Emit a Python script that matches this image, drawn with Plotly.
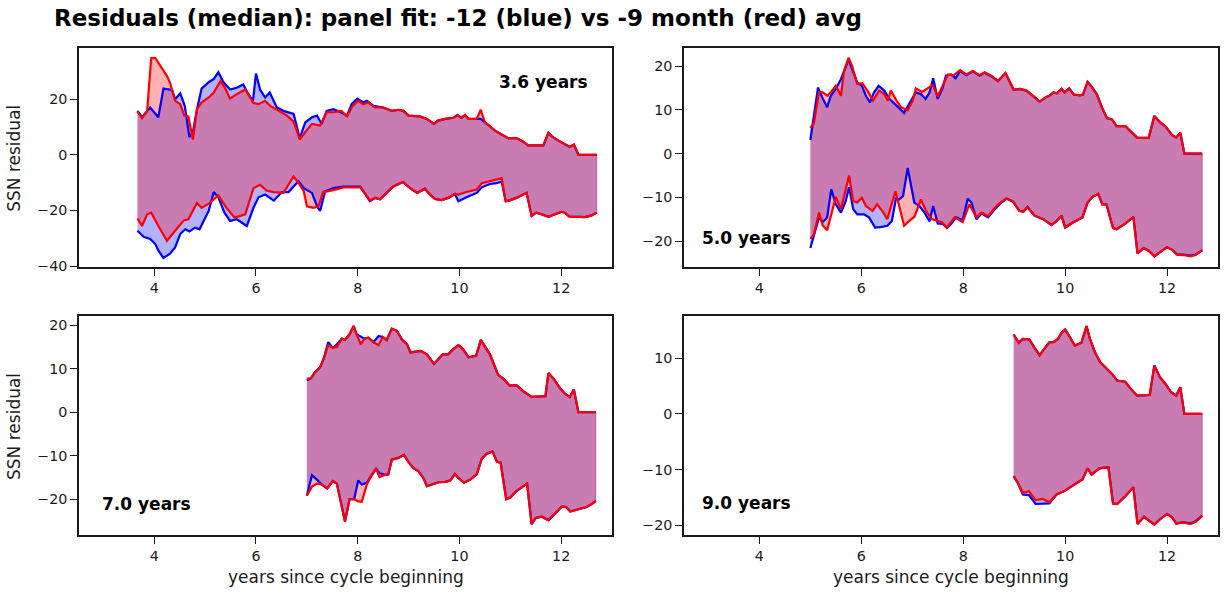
import plotly.graph_objects as go

FONT = "DejaVu Sans"
W, H = 1225, 600

BLUE = "#0000ff"
RED = "#ff0000"
BLUE_FILL = "rgba(0,0,255,0.3)"
RED_FILL = "rgba(255,0,0,0.3)"

# ---------------- panel 1: fit from 3.6 years ----------------
P1_BLUE_HI_X = [3.67, 3.76, 3.92, 4.08, 4.18, 4.35, 4.41, 4.51, 4.60, 4.69, 4.76, 4.84, 4.93, 5.07,
                5.17, 5.26, 5.36, 5.49, 5.62, 5.75, 5.85, 5.94, 6.00, 6.08, 6.18, 6.27, 6.41, 6.54,
                6.74, 6.86, 6.97, 7.10, 7.20, 7.29, 7.39, 7.52, 7.65, 7.79, 7.88, 7.99, 8.11, 8.18,
                8.31]
P1_BLUE_HI_Y = [15.8, 13.5, 17.0, 13.5, 23.8, 23.3, 20.0, 22.1, 17.6, 6.4, 8.2, 16.4, 23.8, 26.1,
                27.3, 29.7, 26.1, 23.5, 24.1, 25.3, 21.8, 19.4, 29.2, 23.5, 20.6, 22.4, 17.0, 15.8,
                14.7, 6.0, 11.7, 13.5, 14.1, 11.1, 15.8, 16.4, 15.5, 14.1, 18.2, 20.2, 18.8, 19.4,
                17.6]
P1_RED_HI_X = [3.67, 3.76, 3.86, 3.94, 4.02, 4.15, 4.25, 4.31, 4.41, 4.51, 4.59, 4.67, 4.76, 4.84,
               4.93, 5.07, 5.17, 5.30, 5.39, 5.49, 5.62, 5.79, 5.95, 6.05, 6.18, 6.28, 6.44, 6.61,
               6.74, 6.86, 6.97, 7.10, 7.26, 7.39, 7.52, 7.68, 7.79, 7.90, 8.01, 8.11, 8.21, 8.34]
P1_RED_HI_Y = [15.5, 13.2, 15.8, 34.8, 34.8, 31.2, 28.3, 25.9, 19.4, 18.2, 14.1, 13.8, 5.5, 16.4,
               18.8, 20.6, 22.4, 26.5, 24.1, 20.2, 21.8, 23.5, 18.6, 18.2, 19.4, 17.6, 15.8, 14.1,
               11.9, 5.5, 8.2, 11.1, 10.5, 15.3, 15.3, 15.8, 13.8, 17.6, 19.4, 18.2, 18.8, 17.0]
P1_HI_TAIL_X = [8.50, 8.67, 8.80, 8.90, 9.00, 9.22, 9.36, 9.50, 9.58, 9.72, 9.88, 9.96, 10.04,
                10.11, 10.18, 10.34, 10.42, 10.50, 10.60, 10.70, 10.83, 10.96, 11.12, 11.25, 11.35,
                11.65, 11.75, 11.83, 11.94, 12.07, 12.17, 12.25, 12.34, 12.70]
P1_BLUE_HI_TAIL_Y = [17.0, 15.8, 16.2, 15.8, 14.1, 13.8, 12.9, 11.1, 12.3, 12.9, 13.3, 14.3, 13.3,
                     14.3, 12.9, 12.9, 12.9, 11.7, 10.3, 8.7, 7.3, 6.0, 6.0, 4.8, 3.4,
                     3.4, 7.9, 6.4, 5.2, 4.0, 2.8, 3.7, 0.0, 0.0]
P1_RED_HI_TAIL_Y = [17.0, 15.8, 16.2, 15.8, 14.1, 13.8, 12.9, 11.1, 12.3, 12.9, 13.3, 14.3, 13.3,
                    14.3, 12.9, 12.9, 16.2, 11.7, 10.3, 8.7, 7.3, 6.0, 6.0, 4.8, 3.4,
                    3.4, 7.9, 6.4, 5.2, 4.0, 2.8, 3.7, 0.0, 0.0]

P1_BLUE_LO_X = [3.67, 3.79, 3.92, 4.02, 4.08, 4.18, 4.31, 4.41, 4.51, 4.61, 4.69, 4.80, 4.89, 4.98,
                5.07, 5.17, 5.26, 5.38, 5.49, 5.62, 5.82, 5.95, 6.05, 6.18, 6.35, 6.51, 6.64, 6.77,
                6.84, 6.94, 7.10, 7.20, 7.26, 7.36, 7.52, 7.72, 7.92, 8.05, 8.24, 8.34, 8.44, 8.54,
                8.70, 8.89, 9.03, 9.17, 9.32, 9.42, 9.52, 9.65, 9.78, 9.91, 9.98, 10.14, 10.34,
                10.44, 10.60, 10.73, 10.83]
P1_BLUE_LO_Y = [-27.3, -29.5, -30.3, -32.1, -34.4, -37.1, -35.6, -33.3, -28.5, -26.8, -27.6, -26.2,
                -26.8, -23.2, -20.2, -13.4, -15.3, -20.8, -23.8, -23.2, -25.6, -19.1, -15.3, -14.3,
                -16.5, -13.4, -13.4, -10.8, -9.6, -12.0, -13.7, -18.5, -20.2, -13.1, -12.0, -11.4,
                -11.4, -11.4, -16.7, -15.5, -16.0, -14.3, -11.4, -9.8, -12.0, -13.7, -12.2, -14.3,
                -15.9, -16.3, -15.5, -14.1, -16.7, -15.3, -13.7, -11.7, -10.5, -10.2, -9.7]
P1_RED_LO_X = [3.67, 3.76, 3.86, 3.94, 4.08, 4.25, 4.41, 4.58, 4.67, 4.84, 4.93, 5.07, 5.26, 5.42,
               5.58, 5.79, 5.95, 6.08, 6.21, 6.35, 6.54, 6.74, 6.84, 6.94, 7.00, 7.13, 7.23, 7.32,
               7.52, 7.72, 7.92, 8.05, 8.24, 8.34, 8.44, 8.54, 8.70, 8.89, 9.03, 9.17, 9.32, 9.42,
               9.52, 9.65, 9.78, 9.91, 9.98, 10.14, 10.34, 10.44, 10.60, 10.73, 10.83]
P1_RED_LO_Y = [-22.9, -25.6, -21.4, -20.8, -25.6, -30.9, -27.3, -23.6, -23.2, -17.3, -19.1, -17.6,
               -14.6, -19.1, -22.6, -21.4, -12.0, -10.8, -12.9, -13.4, -13.7, -7.8, -10.2, -13.1,
               -18.5, -19.1, -18.5, -13.4, -12.7, -11.7, -11.7, -11.7, -16.4, -15.5, -16.0, -14.3,
               -11.4, -9.8, -12.0, -13.7, -12.2, -14.3, -15.9, -16.3, -15.5, -14.1, -14.3, -13.4,
               -12.5, -10.2, -9.4, -9.0, -8.4]
P1_LO_TAIL_X = [10.91, 10.99, 11.12, 11.32, 11.42, 11.51, 11.61, 11.75, 11.88, 12.01, 12.07, 12.17,
                12.34, 12.47, 12.60, 12.70]
P1_LO_TAIL_Y = [-16.7, -16.4, -15.5, -13.7, -22.0, -20.8, -21.4, -22.3, -21.4, -20.5, -20.8, -22.3,
                -22.3, -22.4, -21.8, -20.8]

# ---------------- panel 2: fit from 5.0 years ----------------
P2_BLUE_HI_X = [5.00, 5.07, 5.15, 5.23, 5.33, 5.40, 5.50, 5.60, 5.67, 5.75, 5.82, 5.92, 6.01, 6.09,
                6.17, 6.25, 6.34, 6.45, 6.55, 6.65, 6.74, 6.84, 6.94, 7.07, 7.17, 7.26, 7.34, 7.41,
                7.50, 7.59, 7.66, 7.76, 7.85, 7.94, 8.06, 8.19, 8.32, 8.42, 8.55, 8.68, 8.83, 8.99]
P2_BLUE_HI_Y = [3.1, 8.7, 15.1, 12.9, 10.6, 13.2, 14.8, 17.0, 19.3, 21.5, 19.3, 16.3, 15.5, 13.2,
                11.7, 14.0, 15.5, 14.4, 12.5, 11.4, 10.2, 9.3, 11.4, 14.0, 13.6, 12.5, 14.0, 17.2,
                12.5, 14.8, 17.8, 18.1, 17.2, 18.9, 17.9, 18.8, 17.8, 18.5, 17.7, 16.6, 18.4, 14.6]
P2_RED_HI_X = [5.00, 5.07, 5.17, 5.24, 5.34, 5.50, 5.60, 5.66, 5.75, 5.82, 5.92, 6.02, 6.12, 6.23,
               6.35, 6.45, 6.52, 6.58, 6.69, 6.78, 6.91, 7.01, 7.07, 7.19, 7.30, 7.40, 7.50, 7.60,
               7.70, 7.81, 7.94, 8.06, 8.19, 8.32, 8.42, 8.55, 8.68, 8.83, 8.99]
P2_RED_HI_Y = [5.9, 6.9, 14.1, 14.0, 13.2, 15.5, 13.2, 18.9, 21.9, 20.0, 15.9, 16.1, 14.4, 12.1,
               14.4, 13.6, 12.1, 14.4, 12.1, 10.6, 9.9, 12.1, 14.9, 14.1, 14.9, 15.7, 13.1, 15.5,
               18.1, 17.9, 19.1, 18.1, 18.9, 17.9, 18.6, 17.8, 16.6, 18.4, 14.6]
P2_HI_TAIL_X = [9.11, 9.24, 9.37, 9.50, 9.62, 9.69, 9.77, 9.84, 9.93, 9.99, 10.08, 10.17, 10.29,
                10.35, 10.44, 10.52, 10.62, 10.72, 10.82, 10.92, 11.01, 11.18, 11.31, 11.42, 11.64,
                11.75, 11.86, 11.97, 12.10, 12.18, 12.26, 12.34, 12.69]
P2_HI_TAIL_Y = [14.8, 14.4, 13.2, 11.9, 12.9, 13.2, 14.0, 13.8, 14.8, 14.0, 14.9, 13.5, 13.3,
                13.5, 16.4, 15.3, 13.6, 10.6, 8.1, 7.8, 6.3, 6.3, 4.8, 3.6, 3.6,
                8.6, 7.2, 6.2, 4.2, 3.7, 4.8, 0.0, 0.0]

P2_BLUE_LO_X = [5.00, 5.07, 5.17, 5.24, 5.33, 5.41, 5.50, 5.60, 5.69, 5.76, 5.84, 5.92, 6.05, 6.15,
                6.27, 6.38, 6.51, 6.60, 6.68, 6.74, 6.82, 6.91, 6.98, 7.04, 7.14, 7.24, 7.34, 7.41,
                7.50, 7.60, 7.68, 7.76, 7.86, 7.99, 8.09, 8.16, 8.26, 8.36, 8.49, 8.62, 8.75, 8.85,
                8.98]
P2_BLUE_LO_Y = [-21.6, -18.8, -14.6, -15.7, -14.6, -8.2, -11.6, -13.5, -11.0, -7.7, -12.7, -13.9,
                -13.9, -14.6, -16.9, -16.8, -16.5, -15.4, -10.3, -10.5, -9.7, -3.3, -7.4, -11.2,
                -12.0, -13.5, -15.5, -12.0, -16.0, -16.1, -17.0, -16.1, -14.6, -15.2, -10.3, -11.2,
                -15.0, -13.7, -14.6, -12.7, -11.2, -10.3, -11.0]
P2_RED_LO_X = [5.00, 5.07, 5.17, 5.24, 5.33, 5.50, 5.60, 5.76, 5.84, 5.92, 6.01, 6.09, 6.22, 6.31,
               6.41, 6.51, 6.67, 6.74, 6.84, 6.98, 7.04, 7.17, 7.27, 7.38, 7.50, 7.58, 7.68, 7.83,
               7.99, 8.12, 8.26, 8.36, 8.49, 8.62, 8.75, 8.85, 8.98]
P2_RED_LO_Y = [-19.5, -18.4, -13.5, -16.4, -17.5, -9.9, -12.7, -5.0, -10.9, -11.2, -10.1, -12.0,
               -13.1, -11.6, -13.1, -15.0, -8.6, -12.0, -16.5, -15.0, -14.5, -10.5, -13.1, -15.0,
               -15.4, -15.7, -16.9, -14.6, -15.7, -11.6, -14.6, -13.5, -14.3, -12.4, -11.0, -10.3,
               -11.0]
P2_LO_TAIL_X = [9.10, 9.18, 9.26, 9.40, 9.57, 9.73, 9.81, 9.93, 10.00, 10.16, 10.34, 10.44, 10.54,
                10.65, 10.73, 10.81, 10.94, 11.01, 11.18, 11.34, 11.42, 11.54, 11.64, 11.75, 11.87,
                12.00, 12.10, 12.20, 12.32, 12.46, 12.56, 12.69]
P2_BLUE_LO_TAIL_Y = [-13.1, -13.3, -12.2, -14.2, -15.0, -16.3, -15.7, -14.2, -16.9, -15.7, -14.6,
                     -11.2, -9.9, -9.2, -11.6, -11.6, -17.0, -17.3, -16.0, -14.5, -22.8, -21.6,
                     -22.2, -23.5, -22.5, -21.4, -22.0, -23.1, -23.1, -23.3, -23.1, -22.1]
P2_RED_LO_TAIL_Y = [-13.1, -13.3, -12.2, -14.2, -15.0, -16.3, -15.7, -14.2, -16.9, -15.7, -14.6,
                    -11.2, -9.9, -9.2, -11.6, -11.6, -17.0, -17.3, -16.0, -14.5, -22.8, -21.6,
                    -22.2, -23.5, -22.5, -21.4, -22.0, -23.1, -23.2, -23.5, -23.2, -22.1]

# ---------------- panel 3: fit from 7.0 years ----------------
P3_HI_X = [7.00, 7.08, 7.16, 7.26, 7.34, 7.42, 7.51, 7.59, 7.69, 7.75, 7.84, 7.92, 7.98, 8.06,
           8.13, 8.21, 8.31, 8.41, 8.49, 8.57, 8.67, 8.77, 8.87, 8.97, 9.04, 9.13, 9.24, 9.36,
           9.50, 9.58, 9.67, 9.78, 9.88, 9.98, 10.07, 10.18, 10.33, 10.42, 10.52, 10.60, 10.76,
           10.86, 10.99, 11.12, 11.26, 11.42, 11.69, 11.75, 11.85, 11.98, 12.08, 12.17, 12.25,
           12.34, 12.68]
P3_BLUE_HI_Y = [7.3, 7.8, 9.2, 10.3, 12.6, 16.1, 14.8, 15.6, 16.9, 16.6, 17.9, 19.8, 17.9, 17.3,
                16.9, 17.1, 16.1, 17.5, 17.3, 16.6, 19.2, 18.7, 16.7, 15.6, 13.7, 13.9, 14.1, 13.3,
                11.1, 12.1, 13.3, 13.3, 14.5, 15.4, 14.5, 12.6, 13.0, 16.6, 14.8, 13.3, 8.6,
                7.7, 6.1, 6.2, 4.8, 3.5, 3.7, 9.0, 7.7, 5.5, 4.2, 3.5, 5.2,
                0.0, 0.0]
P3_RED_HI_Y = [7.7, 7.8, 9.2, 10.3, 12.6, 15.4, 14.8, 15.0, 16.9, 16.6, 17.9, 19.8, 17.9, 15.6,
               16.9, 17.1, 16.1, 15.4, 17.3, 16.6, 19.2, 18.7, 16.7, 15.6, 13.7, 13.9, 14.1, 13.3,
               11.1, 12.1, 13.3, 13.3, 14.5, 15.4, 14.5, 12.6, 13.0, 16.6, 14.8, 13.3, 8.6,
               7.7, 6.1, 6.2, 4.8, 3.5, 3.7, 9.0, 7.7, 5.5, 4.2, 3.5, 5.2,
               0.0, 0.0]
P3_LO_X = [7.00, 7.10, 7.20, 7.29, 7.40, 7.51, 7.59, 7.67, 7.75, 7.84, 7.93, 8.01, 8.08, 8.18,
           8.28, 8.36, 8.43, 8.53, 8.60, 8.67, 8.80, 8.91, 8.99, 9.09, 9.19, 9.29, 9.36, 9.46,
           9.59, 9.72, 9.82, 9.91, 9.98, 10.09, 10.21, 10.34, 10.44, 10.53, 10.65, 10.74, 10.81,
           10.92, 11.00, 11.12, 11.33, 11.42, 11.50, 11.62, 11.75, 11.88, 12.01, 12.10, 12.18,
           12.34, 12.50, 12.60, 12.68]
P3_BLUE_LO_Y = [-19.2, -14.5, -15.5, -16.6, -17.5, -15.8, -16.4, -21.1, -25.1, -20.0, -20.0, -15.7,
                -16.6, -16.2, -14.3, -13.0, -14.0, -14.4, -14.3, -10.9, -10.5, -9.8, -11.3, -12.8,
                -13.5, -15.1, -17.0, -16.6, -16.1, -16.0, -15.7, -14.2, -15.1, -16.2, -15.5, -14.3,
                -10.7, -9.6, -9.0, -11.4, -11.6, -20.0, -19.6, -18.1, -16.4, -25.7, -24.3, -24.0,
                -24.8, -23.3, -21.7, -21.8, -22.8, -22.3, -21.8, -21.1, -20.4]
P3_RED_LO_Y = [-19.2, -17.1, -16.4, -16.6, -17.5, -15.8, -16.4, -21.1, -25.1, -20.0, -20.0, -20.5,
               -20.6, -16.6, -14.3, -13.0, -14.9, -14.4, -14.3, -10.9, -10.5, -9.8, -11.3, -12.8,
               -13.5, -15.1, -17.0, -16.6, -16.1, -16.0, -15.7, -14.2, -15.1, -16.2, -15.5, -14.3,
               -10.7, -9.6, -9.0, -11.4, -11.6, -20.0, -19.6, -18.1, -16.4, -25.7, -24.3, -24.0,
               -24.8, -23.3, -21.7, -21.8, -22.8, -22.3, -21.8, -21.1, -20.4]

# ---------------- panel 4: fit from 9.0 years ----------------
P4_HI_X = [8.99, 9.09, 9.17, 9.30, 9.40, 9.50, 9.59, 9.69, 9.77, 9.86, 9.92, 10.00, 10.09, 10.19,
           10.32, 10.42, 10.49, 10.59, 10.69, 10.82, 10.92, 11.02, 11.18, 11.28, 11.41, 11.66,
           11.75, 11.86, 11.97, 12.08, 12.18, 12.26, 12.34, 12.69]
P4_BLUE_HI_Y = [14.3, 12.8, 13.5, 13.4, 11.9, 10.6, 11.7, 12.9, 12.9, 13.5, 14.5, 15.2, 13.9, 12.3,
                12.8, 15.8, 13.4, 11.0, 9.3, 8.1, 7.2, 6.0, 5.8, 4.6, 3.3, 3.4,
                8.7, 6.6, 5.4, 3.9, 3.3, 4.8, 0.0, 0.0]
P4_RED_HI_Y = [14.3, 12.8, 13.5, 13.4, 11.9, 10.6, 11.7, 12.9, 12.9, 13.5, 14.5, 15.2, 13.9, 12.3,
               12.8, 15.8, 13.4, 11.0, 9.3, 8.1, 7.2, 6.0, 5.8, 4.6, 3.3, 3.4,
               8.7, 6.6, 5.4, 3.9, 3.3, 4.8, 0.0, 0.0]
P4_LO_X = [8.99, 9.07, 9.17, 9.29, 9.42, 9.56, 9.69, 9.83, 10.00, 10.16, 10.34, 10.44, 10.52,
           10.67, 10.85, 10.94, 11.02, 11.18, 11.34, 11.42, 11.55, 11.66, 11.75, 11.87, 12.00,
           12.10, 12.18, 12.32, 12.46, 12.56, 12.69]
P4_BLUE_LO_Y = [-11.2, -12.4, -14.5, -14.6, -16.2, -16.1, -16.1, -14.5, -13.8, -12.8, -11.8, -9.8,
                -10.9, -9.8, -9.6, -16.1, -16.2, -14.8, -13.2, -19.8, -18.5, -19.3, -19.9, -18.9,
                -18.0, -18.6, -19.7, -19.5, -19.7, -19.3, -18.3]
P4_RED_LO_Y = [-11.2, -12.4, -14.2, -13.9, -15.5, -15.3, -15.9, -14.5, -13.8, -12.8, -11.8, -9.8,
               -10.9, -9.8, -9.6, -16.1, -16.2, -14.8, -13.2, -19.8, -18.5, -19.3, -19.9, -18.9,
               -18.0, -18.6, -19.7, -19.5, -19.8, -19.4, -18.4]

X_TICKS = [4, 6, 8, 10, 12]
X_RANGE = [2.52, 13.0]

PANELS = [
    dict(ax="", label="3.6 years",
         blue_hi=(P1_BLUE_HI_X + P1_HI_TAIL_X, P1_BLUE_HI_Y + P1_BLUE_HI_TAIL_Y),
         red_hi=(P1_RED_HI_X + P1_HI_TAIL_X, P1_RED_HI_Y + P1_RED_HI_TAIL_Y),
         blue_lo=(P1_BLUE_LO_X + P1_LO_TAIL_X, P1_BLUE_LO_Y + P1_LO_TAIL_Y),
         red_lo=(P1_RED_LO_X + P1_LO_TAIL_X, P1_RED_LO_Y + P1_LO_TAIL_Y),
         yrange=[-40.3, 38.5], yticks=[-40, -20, 0, 20],
         xdom=[79, 612], ydom=[48.3, 270], show_ylabel=True, show_xlabel=False,
         tag_xy=(590, 83), tag_anchor="right"),
    dict(ax="2", label="5.0 years",
         blue_hi=(P2_BLUE_HI_X + P2_HI_TAIL_X, P2_BLUE_HI_Y + P2_HI_TAIL_Y),
         red_hi=(P2_RED_HI_X + P2_HI_TAIL_X, P2_RED_HI_Y + P2_HI_TAIL_Y),
         blue_lo=(P2_BLUE_LO_X + P2_LO_TAIL_X, P2_BLUE_LO_Y + P2_BLUE_LO_TAIL_Y),
         red_lo=(P2_RED_LO_X + P2_LO_TAIL_X, P2_RED_LO_Y + P2_RED_LO_TAIL_Y),
         yrange=[-25.9, 24.2], yticks=[-20, -10, 0, 10, 20],
         xdom=[684, 1218], ydom=[48.3, 270], show_ylabel=False, show_xlabel=False,
         tag_xy=(700, 241), tag_anchor="left"),
    dict(ax="3", label="7.0 years",
         blue_hi=(P3_HI_X, P3_BLUE_HI_Y), red_hi=(P3_HI_X, P3_RED_HI_Y),
         blue_lo=(P3_LO_X, P3_BLUE_LO_Y), red_lo=(P3_LO_X, P3_RED_LO_Y),
         yrange=[-28.3, 22.2], yticks=[-20, -10, 0, 10, 20],
         xdom=[79, 612], ydom=[319.3, 541.7], show_ylabel=True, show_xlabel=True,
         tag_xy=(100, 510), tag_anchor="left"),
    dict(ax="4", label="9.0 years",
         blue_hi=(P4_HI_X, P4_BLUE_HI_Y), red_hi=(P4_HI_X, P4_RED_HI_Y),
         blue_lo=(P4_LO_X, P4_BLUE_LO_Y), red_lo=(P4_LO_X, P4_RED_LO_Y),
         yrange=[-21.85, 17.7], yticks=[-20, -10, 0, 10],
         xdom=[684, 1218], ydom=[319.3, 541.7], show_ylabel=False, show_xlabel=True,
         tag_xy=(700, 509), tag_anchor="left"),
]


def px_x(v):
    return v / W


def px_y(v):
    return 1 - v / H


def minus(v):
    return str(v).replace("-", "\u2212")


fig = go.Figure()
annotations = []
layout_axes = {}

for p in PANELS:
    xa, ya = "x" + p["ax"], "y" + p["ax"]
    # shaded bands between each series' upper and lower envelope
    for hi, lo, fc in ((p["blue_hi"], p["blue_lo"], BLUE_FILL), (p["red_hi"], p["red_lo"], RED_FILL)):
        fig.add_trace(go.Scatter(
            x=list(hi[0]) + list(lo[0])[::-1], y=list(hi[1]) + list(lo[1])[::-1],
            mode="lines", fill="toself", fillcolor=fc, line=dict(color=fc, width=0.8),
            xaxis=xa, yaxis=ya, hoverinfo="skip", showlegend=False))
    for key, col in (("blue_hi", BLUE), ("blue_lo", BLUE), ("red_hi", RED), ("red_lo", RED)):
        xs, ys = p[key]
        fig.add_trace(go.Scatter(
            x=xs, y=ys, mode="lines", line=dict(color=col, width=2.2),
            xaxis=xa, yaxis=ya, hoverinfo="skip", showlegend=False))

    axis_common = dict(showline=True, linecolor="#1a1a1a", linewidth=1.6, mirror=True,
                       showgrid=False, zeroline=False, ticks="outside", ticklen=7,
                       tickwidth=1.4, tickcolor="#1a1a1a",
                       tickfont=dict(family=FONT, size=14.3, color="#1a1a1a"))
    layout_axes["xaxis" + p["ax"]] = dict(
        axis_common, domain=[px_x(p["xdom"][0]), px_x(p["xdom"][1])], range=X_RANGE,
        tickvals=X_TICKS, ticktext=[str(t) for t in X_TICKS], anchor=ya)
    layout_axes["yaxis" + p["ax"]] = dict(
        axis_common, domain=[px_y(p["ydom"][1]), px_y(p["ydom"][0])], range=p["yrange"],
        tickvals=p["yticks"], ticktext=[minus(t) for t in p["yticks"]], anchor=xa)

    tx, ty = p["tag_xy"]
    annotations.append(dict(
        text="<b>%s</b>" % p["label"], x=px_x(tx), y=px_y(ty), xref="paper", yref="paper",
        xanchor=p["tag_anchor"], yanchor="middle", showarrow=False,
        font=dict(family=FONT, size=17, color="black")))

    mid_x = (p["xdom"][0] + p["xdom"][1]) / 2
    mid_y = (p["ydom"][0] + p["ydom"][1]) / 2
    if p["show_ylabel"]:
        annotations.append(dict(
            text="SSN residual", x=px_x(14.5), y=px_y(mid_y + 1), xref="paper", yref="paper",
            xanchor="center", yanchor="middle", textangle=-90, showarrow=False,
            font=dict(family=FONT, size=17, color="#1a1a1a")))
    if p["show_xlabel"]:
        annotations.append(dict(
            text="years since cycle beginning", x=px_x(mid_x), y=px_y(584), xref="paper",
            yref="paper", xanchor="center", yanchor="middle", showarrow=False,
            font=dict(family=FONT, size=17, color="#1a1a1a")))

annotations.append(dict(
    text="<b>Residuals (median): panel fit: -12 (blue) vs -9 month (red) avg</b>",
    x=px_x(52), y=px_y(18), xref="paper", yref="paper", xanchor="left", yanchor="middle",
    showarrow=False, font=dict(family=FONT, size=23, color="black")))

fig.update_layout(
    width=W, height=H, margin=dict(l=0, r=0, t=0, b=0),
    paper_bgcolor="white", plot_bgcolor="white",
    annotations=annotations, **layout_axes)

fig.write_html("out.html")
